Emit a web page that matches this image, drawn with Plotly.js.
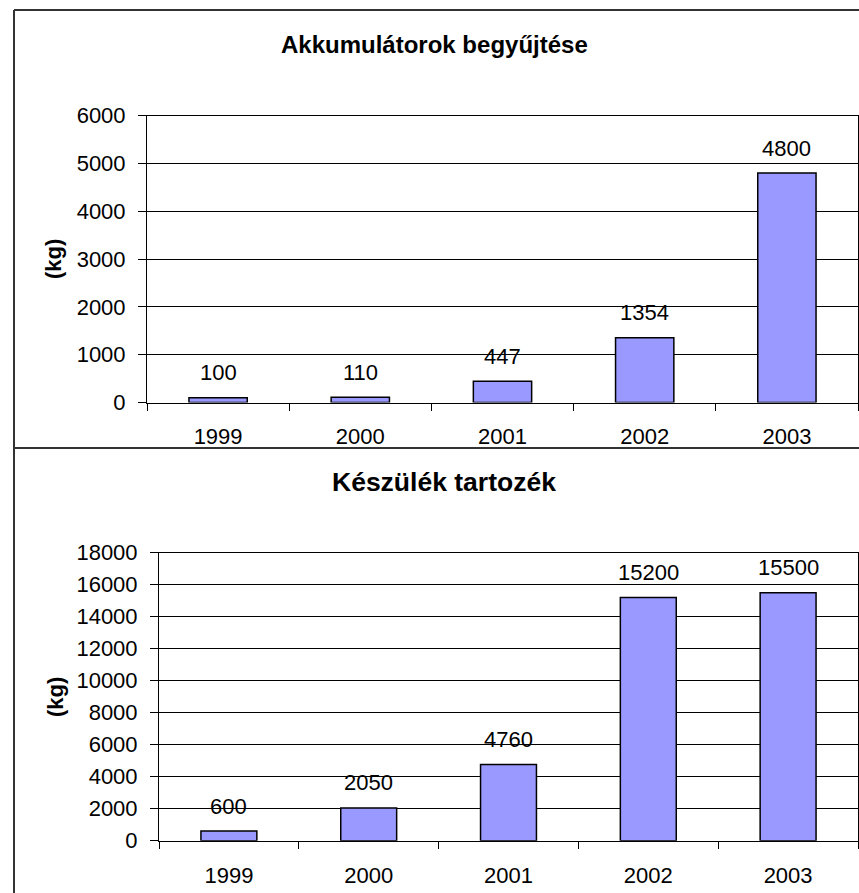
<!DOCTYPE html>
<html>
<head>
<meta charset="utf-8">
<script src="https://cdn.plot.ly/plotly-3.0.1.min.js"></script>
<style>html,body{margin:0;padding:0;background:#fff;}#chart{width:859px;height:893px;}</style>
</head>
<body>
<div id="chart"></div>
<script>
const years = ["1999", "2000", "2001", "2002", "2003"];
const akkumulatorok = [100, 110, 447, 1354, 4800];
const keszulek = [600, 2050, 4760, 15200, 15500];
const title1 = "Akkumulátorok begyűjtése";
const title2 = "Készülék tartozék";
const yLabel = "(kg)";

const W = 859, H = 893;
const FONT = "Liberation Sans, Arial, sans-serif";
const px = v => v / W;
const py = v => 1 - v / H;

const barStyle = {color: "#9999FF", line: {color: "#000", width: 1.5}};

const traces = [
  {type: "bar", x: years, y: akkumulatorok, xaxis: "x", yaxis: "y", marker: barStyle, width: 0.41, hoverinfo: "x+y"},
  {type: "bar", x: years, y: keszulek, xaxis: "x2", yaxis: "y2", marker: barStyle, width: 0.40, hoverinfo: "x+y"}
];

function xAxis(domain, anchor, standoff) {
  return {
    domain: domain, anchor: anchor, type: "category",
    range: [-0.5, years.length - 0.5], autorange: false,
    showline: true, linecolor: "#000", linewidth: 1, mirror: true,
    ticks: "outside", tickson: "boundaries", ticklen: 7, tickcolor: "#000", tickwidth: 1,
    ticklabelstandoff: standoff, tickangle: 0,
    showgrid: false, zeroline: false,
    tickfont: {family: FONT, size: 22, color: "#000"}
  };
}
function yAxis(domain, anchor, range, dtick) {
  return {
    domain: domain, anchor: anchor, range: range, autorange: false, dtick: dtick, tickformat: "d",
    showline: true, linecolor: "#000", linewidth: 1, mirror: true,
    ticks: "outside", ticklen: 8, tickcolor: "#000", tickwidth: 1,
    ticklabelstandoff: 8,
    showgrid: true, gridcolor: "#000", gridwidth: 1, zeroline: false,
    tickfont: {family: FONT, size: 22, color: "#000"}
  };
}

const annotations = [];
years.forEach((c, i) => {
  annotations.push({x: i, y: akkumulatorok[i], xref: "x", yref: "y", text: String(akkumulatorok[i]),
    showarrow: false, yshift: 25, font: {family: FONT, size: 22, color: "#000"}});
  annotations.push({x: i, y: keszulek[i], xref: "x2", yref: "y2", text: String(keszulek[i]),
    showarrow: false, yshift: 25, font: {family: FONT, size: 22, color: "#000"}});
});
annotations.push({x: px(434), y: py(44), xref: "paper", yref: "paper", text: "<b>" + title1 + "</b>",
  showarrow: false, xanchor: "center", yanchor: "middle", font: {family: FONT, size: 24, color: "#000"}});
annotations.push({x: px(443.5), y: py(482), xref: "paper", yref: "paper", text: "<b>" + title2 + "</b>",
  showarrow: false, xanchor: "center", yanchor: "middle", font: {family: FONT, size: 26.5, color: "#000"}});
annotations.push({x: px(53), y: py(259), xref: "paper", yref: "paper", text: "<b>" + yLabel + "</b>", textangle: -90,
  showarrow: false, xanchor: "center", yanchor: "middle", font: {family: FONT, size: 22, color: "#000"}});
annotations.push({x: px(55), y: py(697), xref: "paper", yref: "paper", text: "<b>" + yLabel + "</b>", textangle: -90,
  showarrow: false, xanchor: "center", yanchor: "middle", font: {family: FONT, size: 22, color: "#000"}});

const shapes = [
  {type: "line", xref: "paper", yref: "paper", x0: px(14), x1: px(870), y0: py(10), y1: py(10), line: {color: "#333", width: 2}},
  {type: "line", xref: "paper", yref: "paper", x0: px(14), x1: px(14), y0: py(10), y1: py(900), line: {color: "#333", width: 2}},
  {type: "line", xref: "paper", yref: "paper", x0: px(14), x1: px(870), y0: py(448), y1: py(448), line: {color: "#333", width: 2}}
];

const layout = {
  width: W, height: H, margin: {l: 0, r: 0, t: 0, b: 0},
  paper_bgcolor: "#fff", plot_bgcolor: "#fff", showlegend: false,
  xaxis: xAxis([px(147), px(858)], "y", 14),
  yaxis: yAxis([py(402.5), py(115.7)], "x", [0, 6000], 1000),
  xaxis2: xAxis([px(159), px(858)], "y2", 15),
  yaxis2: yAxis([py(840.7), py(552.7)], "x2", [0, 18000], 2000),
  annotations: annotations, shapes: shapes,
  font: {family: FONT, color: "#000"}
};

Plotly.newPlot("chart", traces, layout, {displayModeBar: false, staticPlot: true});
</script>
</body>
</html>
